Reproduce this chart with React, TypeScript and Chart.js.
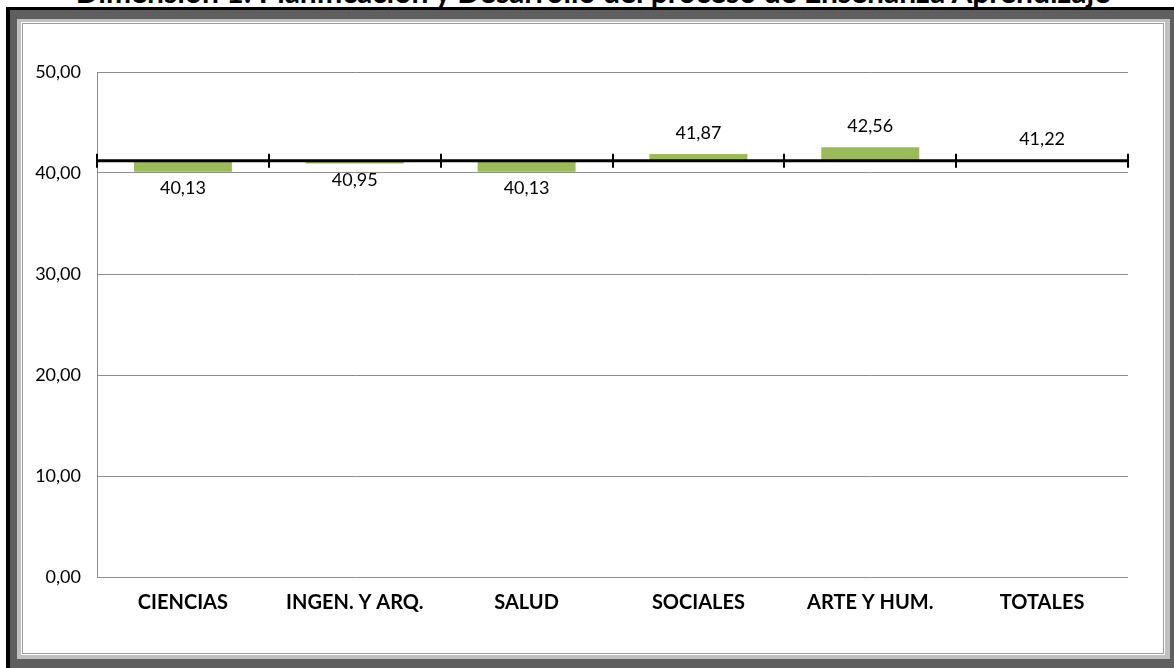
import React, { useEffect, useRef } from "react";
import { Chart, registerables } from "chart.js";

Chart.register(...registerables);

const TITLE = "Dimensión 1: Planificación y Desarrollo del proceso de Enseñanza Aprendizaje";
const categories = ["CIENCIAS", "INGEN. Y ARQ.", "SALUD", "SOCIALES", "ARTE Y HUM.", "TOTALES"];
const values = [40.13, 40.95, 40.13, 41.87, 42.56, 41.22];
const BASELINE = 41.22;
const yTicks = [0, 10, 20, 30, 40, 50];

const FONT = "Lato, 'Open Sans', sans-serif";
const fmt = (v: number) => v.toFixed(2).replace(".", ",");

const overlayPlugin = {
  id: "overlay",
  afterDatasetsDraw(chart: any) {
    const { ctx, chartArea, scales } = chart;
    const x = scales.x;
    const y = scales.y;
    const yb = y.getPixelForValue(BASELINE);
    ctx.save();
    ctx.strokeStyle = "#000";
    ctx.lineWidth = 3;
    ctx.beginPath();
    ctx.moveTo(chartArea.left, yb);
    ctx.lineTo(chartArea.right, yb);
    ctx.stroke();
    const n = categories.length;
    const bounds: number[] = [chartArea.left];
    for (let i = 1; i < n; i++) {
      bounds.push((x.getPixelForValue(i - 1) + x.getPixelForValue(i)) / 2);
    }
    bounds.push(chartArea.right);
    ctx.lineWidth = 2;
    bounds.forEach((bx) => {
      ctx.beginPath();
      ctx.moveTo(Math.round(bx), yb - 7);
      ctx.lineTo(Math.round(bx), yb + 7);
      ctx.stroke();
    });
    const meta = chart.getDatasetMeta(0);
    ctx.fillStyle = "#000";
    ctx.font = `18px ${FONT}`;
    ctx.textAlign = "center";
    ctx.textBaseline = "middle";
    meta.data.forEach((bar: any, i: number) => {
      const v = values[i];
      const py = y.getPixelForValue(v);
      const label = fmt(v);
      if (v < BASELINE) {
        ctx.fillText(label, bar.x, py + 17);
      } else {
        ctx.fillText(label, bar.x, Math.min(py, yb) - 21);
      }
    });
    ctx.restore();
  },
};

export default function App() {
  const ref = useRef<HTMLCanvasElement | null>(null);
  useEffect(() => {
    if (!ref.current) return;
    const chart = new Chart(ref.current, {
      type: "bar",
      data: {
        labels: categories,
        datasets: [
          {
            data: values,
            base: BASELINE,
            backgroundColor: "#9BBB59",
            borderWidth: 0,
            barPercentage: 0.57,
            categoryPercentage: 1,
          } as any,
        ],
      },
      options: {
        animation: false,
        responsive: false,
        layout: { padding: { top: 47, right: 36, left: 0, bottom: 0 } },
        plugins: { legend: { display: false }, tooltip: { enabled: false }, title: { display: false } },
        scales: {
          x: {
            grid: { display: false, drawTicks: false },
            border: { display: false },
            ticks: {
              color: "#000",
              font: { family: FONT, size: 20, weight: "bold" },
              padding: 14,
              maxRotation: 0,
              autoSkip: false,
            },
            afterFit: (s: any) => {
              s.height = 76;
            },
          },
          y: {
            min: 0,
            max: 50,
            afterBuildTicks: (s: any) => {
              s.ticks = yTicks.map((v) => ({ value: v }));
            },
            grid: { color: "#8c8c8c", lineWidth: 1, drawTicks: false },
            border: { display: true, color: "#8c8c8c", width: 1 },
            ticks: {
              color: "#000",
              font: { family: FONT, size: 18 },
              padding: 16,
              callback: (v: any) => fmt(Number(v)),
            },
            afterFit: (s: any) => {
              s.width = 73;
            },
          },
        },
      },
      plugins: [overlayPlugin],
    });
    return () => chart.destroy();
  }, []);

  return (
    <div style={{ position: "fixed", left: 0, top: 0, width: 1174, height: 668, overflow: "hidden", background: "#fff" }}>
      <div
        style={{
          position: "absolute",
          left: 0,
          top: -24,
          width: 1186,
          textAlign: "center",
          fontFamily: FONT,
          fontWeight: "bold",
          fontSize: 30,
          lineHeight: "30px",
          color: "#000",
          whiteSpace: "nowrap",
        }}
      >
        {TITLE}
      </div>
      <div style={{ position: "absolute", left: 6, top: 7, width: 1200, height: 700, background: "#000" }} />
      <div style={{ position: "absolute", left: 10, top: 10, width: 1200, height: 700, background: "#5f5f5f" }} />
      <div style={{ position: "absolute", left: 17, top: 19, width: 1153, height: 640, background: "#c0c0c0" }} />
      <div
        style={{
          position: "absolute",
          left: 21,
          top: 22,
          width: 1142,
          height: 631,
          background: "#fff",
          border: "1px solid #fff",
          boxShadow: "inset 0 0 0 1px #9a9a9a",
        }}
      />
      <canvas ref={ref} width={1140} height={628} style={{ position: "absolute", left: 24, top: 25, width: 1140, height: 628 }} />
    </div>
  );
}
